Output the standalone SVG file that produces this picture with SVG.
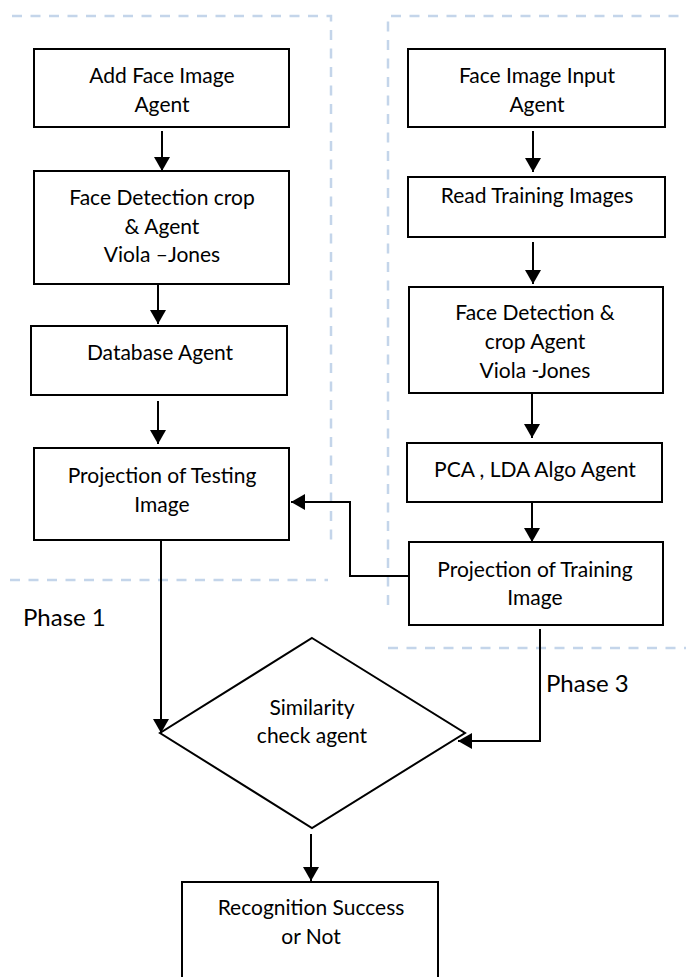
<svg xmlns="http://www.w3.org/2000/svg" width="686" height="977" viewBox="0 0 686 977">
  <style>
    .box { fill: #ffffff; stroke: #000000; stroke-width: 2; }
    .lbl { font-family: Lato, "Open Sans", sans-serif; font-size: 21px; fill: #000000; text-anchor: middle; }
    .phase { font-family: Lato, "Open Sans", sans-serif; font-size: 24px; fill: #000000; }
    .zone { fill: none; stroke: #c4d5ea; stroke-width: 2.5; stroke-dasharray: 10 8.5; }
    .link { fill: none; stroke: #000000; stroke-width: 2; }
  </style>
  <defs>
    <marker id="arrow" viewBox="0 0 14 16" refX="14" refY="8" markerWidth="14" markerHeight="16" markerUnits="userSpaceOnUse" orient="auto">
      <path d="M0,0 L14,8 L0,16 Z" fill="#000000"/>
    </marker>
  </defs>

  <!-- phase boundaries -->
  <g id="zones">
    <path class="zone" d="M12,16 H331 V547"/>
    <path class="zone" d="M388,605 V16 H686"/>
    <path class="zone" d="M10,580 H328"/>
    <path class="zone" d="M388,648 H686"/>
  </g>

  <!-- connectors -->
  <g id="connectors">
    <path class="link" marker-end="url(#arrow)" d="M162,131 V171"/>
    <path class="link" marker-end="url(#arrow)" d="M158,285 V324"/>
    <path class="link" marker-end="url(#arrow)" d="M158,401 V444"/>
    <path class="link" marker-end="url(#arrow)" d="M161,540 V733"/>
    <path class="link" marker-end="url(#arrow)" d="M533,131 V172"/>
    <path class="link" marker-end="url(#arrow)" d="M533,242 V284"/>
    <path class="link" marker-end="url(#arrow)" d="M532,394 V438"/>
    <path class="link" marker-end="url(#arrow)" d="M532,502 V542"/>
    <path class="link" marker-end="url(#arrow)" d="M409,576 H350 V502 H291"/>
    <path class="link" marker-end="url(#arrow)" d="M540,629 V741 H458"/>
    <path class="link" marker-end="url(#arrow)" d="M311,834 V881"/>
  </g>

  <g id="add-face-image">
    <rect class="box" x="34" y="49" width="255" height="78"/>
    <text class="lbl" x="162" y="83">Add Face Image</text>
    <text class="lbl" x="162" y="112">Agent</text>
  </g>

  <g id="face-detection-left">
    <rect class="box" x="34" y="171" width="255" height="113"/>
    <text class="lbl" x="162" y="205">Face Detection crop</text>
    <text class="lbl" x="162" y="234">&amp; Agent</text>
    <text class="lbl" x="162" y="262">Viola –Jones</text>
  </g>

  <g id="database">
    <rect class="box" x="31" y="326" width="256" height="69"/>
    <text class="lbl" x="160" y="360">Database Agent</text>
  </g>

  <g id="projection-testing">
    <rect class="box" x="34" y="448" width="255" height="92"/>
    <text class="lbl" x="162" y="483">Projection of Testing</text>
    <text class="lbl" x="162" y="512">Image</text>
  </g>

  <g id="face-image-input">
    <rect class="box" x="408" y="49" width="257" height="78"/>
    <text class="lbl" x="537" y="83">Face Image Input</text>
    <text class="lbl" x="537" y="112">Agent</text>
  </g>

  <g id="read-training">
    <rect class="box" x="408" y="177" width="257" height="60"/>
    <text class="lbl" x="537" y="203">Read Training Images</text>
  </g>

  <g id="face-detection-right">
    <rect class="box" x="409" y="287" width="254" height="106"/>
    <text class="lbl" x="535" y="320">Face Detection &amp;</text>
    <text class="lbl" x="535" y="349">crop Agent</text>
    <text class="lbl" x="535" y="378">Viola -Jones</text>
  </g>

  <g id="pca-lda">
    <rect class="box" x="407" y="443" width="255" height="59"/>
    <text class="lbl" x="535" y="477">PCA , LDA Algo Agent</text>
  </g>

  <g id="projection-training">
    <rect class="box" x="409" y="542" width="254" height="83"/>
    <text class="lbl" x="535" y="577">Projection of Training</text>
    <text class="lbl" x="535" y="605">Image</text>
  </g>

  <g id="similarity-check">
    <path class="box" d="M312,638 L465,733 L312,828 L160,733 Z"/>
    <text class="lbl" x="312" y="715">Similarity</text>
    <text class="lbl" x="312" y="743">check agent</text>
  </g>

  <g id="recognition-result">
    <rect class="box" x="182" y="882" width="256" height="100"/>
    <text class="lbl" x="311" y="915">Recognition Success</text>
    <text class="lbl" x="311" y="944">or Not</text>
  </g>

  <g id="phase-labels">
    <text class="phase" x="23" y="626">Phase 1</text>
    <text class="phase" x="546" y="692">Phase 3</text>
  </g>
</svg>
